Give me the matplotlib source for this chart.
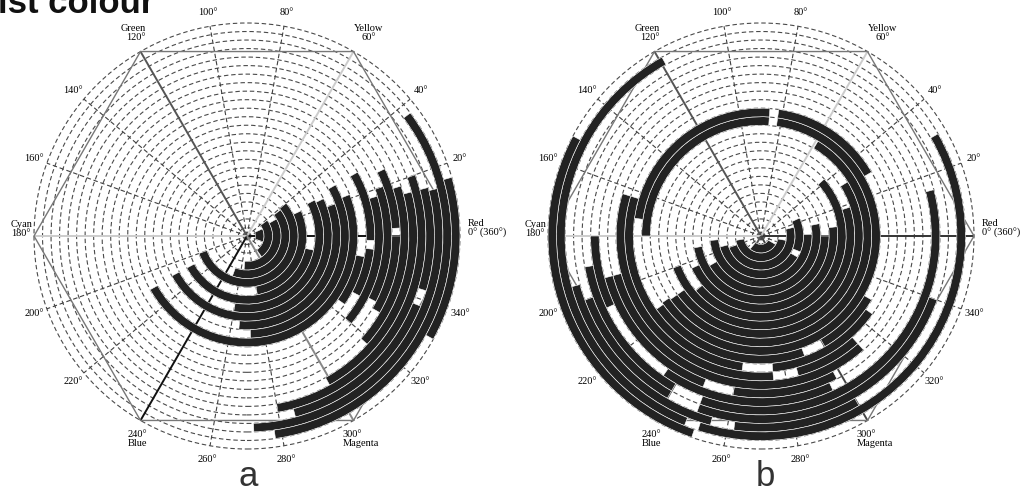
import numpy as np
import matplotlib.pyplot as plt
from matplotlib.patches import Wedge, Circle, Polygon

# ring index (1 = innermost, 25 = outermost), arc start / end in degrees (ccw from Red)
A_RING = [2, 3, 4, 5, 6, 7, 8, 9, 10, 11, 12, 13, 14, 15, 15, 16, 17, 18, 18, 19,
          20, 21, 22, 22, 23, 24, 25]
A_START = [-20, -55, -95, -110, -160, -80, -152, -100, -152, -95, -88, -151, -35, -28, -2, -40, -27, -30, 3, -42,
           -61, -80, -75, -17, -88, -82, -29]
A_END = [25, 38, 30, 38, 40, 25, -12, 28, 26, 20, 30, 22, -10, -6, 30, 17, 20, 0, 26, 18,
         15, 20, -22, 15, 14, 37, 16]

B_RING = [2, 3, 4, 5, 5, 6, 7, 8, 9, 10, 11, 12, 13, 14, 14, 15, 15, 15, 15, 16, 16, 17, 17,
          18, 19, 19, 20, 20, 21, 21, 22, 22, 23, 23, 24, 24, 25]
B_START = [230, 190, 200, 195, 338, 185, 210, 190, 205, 220, 200, 215, 215, 214, 446, 215, 300, 30, 86, 163, 275,
           163, 285, 195, 195, 260, 180, 235, 190, 250, 200, 250, 195, 262, 119, 252, 152]
B_END = [330, 350, 375, 330, 385, 362, 372, 360, 367, 402, 378, 392, 419, 442, 540, 290, 330, 82, 172, 262, 325,
         275, 312, 312, 249, 298, 205, 295, 240, 375, 240, 340, 255, 300, 248, 390, 251]

TICK_ANGLES = list(range(0, 360, 20))
VERTEX_LABELS = {0: 'Red\n0° (360°)', 60: 'Yellow\n60°', 120: 'Green\n120°',
                 180: 'Cyan\n180°', 240: '240°\nBlue', 300: '300°\nMagenta'}

N_RINGS = 25
W, H = 1025, 495
S = 213 / N_RINGS   # pixels per ring
CY = 236            # centre row (pixels from top)

SERIF = ['Liberation Serif', 'DejaVu Serif']

fig = plt.figure(figsize=(W / 100, H / 100), dpi=100)
fig.patch.set_facecolor('white')


def make_axes(cx, x0, x1):
    ax = fig.add_axes([x0 / W, 0, (x1 - x0) / W, 1])
    ax.set_xlim((x0 - cx) / S, (x1 - cx) / S)
    ax.set_ylim(-(H - CY) / S, CY / S)
    ax.axis('off')
    return ax


def draw_chart(ax, rings, starts, ends, spoke_colors):
    R = N_RINGS
    for k in range(1, R + 1):
        ax.add_patch(Circle((0, 0), k, fill=False, ls=(0, (4, 2.5)), lw=0.8,
                            ec='#4a4a4a', zorder=1))
    for a in TICK_ANGLES:
        t = np.radians(a)
        if a % 60 == 0:
            ax.plot([0, R * np.cos(t)], [0, R * np.sin(t)], color=spoke_colors[a],
                    lw=1.4, zorder=2, solid_capstyle='butt')
        else:
            ax.plot([0, R * np.cos(t)], [0, R * np.sin(t)], color='#404040',
                    ls=(0, (4, 2.5)), lw=0.8, zorder=1)
    hexv = np.radians(np.arange(0, 360, 60))
    ax.add_patch(Polygon(np.c_[R * np.cos(hexv), R * np.sin(hexv)], closed=True,
                         fill=False, ec='#777777', lw=1.0, zorder=2))

    for k, a0, a1 in zip(rings, starts, ends):
        ax.add_patch(Wedge((0, 0), k, a0, a1, width=1.0, fc='#222222',
                           ec='white', lw=0.4, zorder=3))

    # angle labels
    for a in TICK_ANGLES:
        if a % 60 == 0:
            continue
        t = np.radians(a)
        ax.text(26.6 * np.cos(t), 26.6 * np.sin(t), f'{a}°', ha='center', va='center',
                fontsize=7.5, family=SERIF, zorder=4)
    ax.text(25.9, 0.85, VERTEX_LABELS[0], ha='left', va='center', ma='left',
            fontsize=7.5, family=SERIF, linespacing=1.0)
    ax.text(14.3, 22.8, VERTEX_LABELS[60], ha='center', va='bottom', ma='center',
            fontsize=7.5, family=SERIF, linespacing=1.0)
    ax.text(-13.4, 22.8, VERTEX_LABELS[120], ha='center', va='bottom', ma='right',
            fontsize=7.5, family=SERIF, linespacing=1.0)
    ax.text(-25.2, 0.85, VERTEX_LABELS[180], ha='right', va='center', ma='center',
            fontsize=7.5, family=SERIF, linespacing=1.0)
    ax.text(-12.9, -22.8, VERTEX_LABELS[240], ha='center', va='top', ma='center',
            fontsize=7.5, family=SERIF, linespacing=1.0)
    ax.text(11.2, -22.8, VERTEX_LABELS[300], ha='left', va='top', ma='left',
            fontsize=7.5, family=SERIF, linespacing=1.0)


ax_a = make_axes(247, 0, 505)
draw_chart(ax_a, A_RING, A_START, A_END,
           {0: '#111111', 60: '#cccccc', 120: '#555555', 180: '#cccccc', 240: '#111111', 300: '#888888'})

ax_b = make_axes(761, 510, 1025)
draw_chart(ax_b, B_RING, B_START, B_END,
           {0: '#333333', 60: '#cccccc', 120: '#555555', 180: '#cccccc', 240: '#555555', 300: '#444444'})

fig.text(248 / W, 2 / H, 'a', ha='center', va='bottom', fontsize=25,
         family=['Liberation Sans', 'DejaVu Sans'], color='#333333')
fig.text(765 / W, 2 / H, 'b', ha='center', va='bottom', fontsize=25,
         family=['Liberation Sans', 'DejaVu Sans'], color='#333333')
# heading is cut off at the top edge in the reference as well
fig.text(-2 / W, 1 - 13 / H, 'ist colour', ha='left', va='baseline', fontsize=25,
         fontweight='bold', family=['Liberation Sans', 'DejaVu Sans'], color='#111111')

fig.savefig('out.png', dpi=100, facecolor='white')
